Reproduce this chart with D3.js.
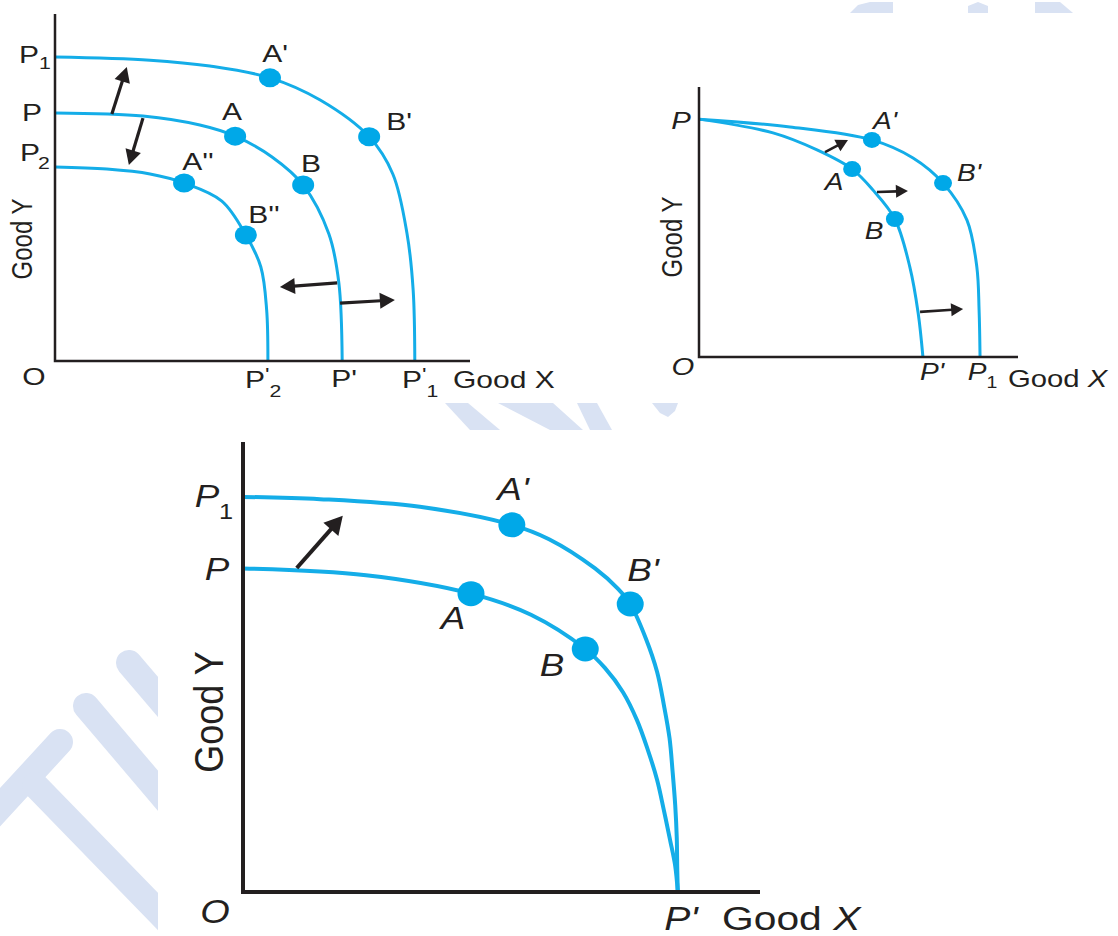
<!DOCTYPE html>
<html>
<head>
<meta charset="utf-8">
<script src="https://cdn.jsdelivr.net/npm/d3@7"></script>
<style>
  body { margin: 0; background: #fff; }
  svg { display: block; }
  text { font-family: "Liberation Sans", Arial, Helvetica, sans-serif; fill: #231f20; }
</style>
</head>
<body>
<svg id="chart" width="1118" height="936"></svg>
<script>
// ---- data (units 0..10 on each axis) ----

// panel 1: shifts of the PPF (P1 outward, P2 inward)
const tlCurveP1 = [[0,8.76],[2.29,8.67],[3.73,8.5],[5.18,8.16],[6.39,7.52],[7.57,6.46],[8.14,5.39],[8.48,3.69],[8.63,2.05],[8.67,0]];
const tlCurveP  = [[0,7.15],[2.12,7.06],[3.49,6.8],[4.34,6.48],[5.23,5.88],[5.98,5.07],[6.6,3.66],[6.84,2.25],[6.92,0]];
const tlCurveP2 = [[0,5.59],[1.25,5.53],[2.29,5.39],[3.11,5.13],[4.02,4.61],[4.6,3.63],[4.96,2.71],[5.1,1.47],[5.13,0]];
const tlPoints = [
  {name: "A'",  x: 5.18, y: 8.16}, {name: "B'",  x: 7.57, y: 6.46},
  {name: "A",   x: 4.34, y: 6.48}, {name: "B",   x: 5.98, y: 5.07},
  {name: "A''", x: 3.11, y: 5.13}, {name: "B''", x: 4.6,  y: 3.63}
];
const tlArrows = [
  [[1.37,7.12],[1.73,8.47]],
  [[2.12,7.0],[1.78,5.65]],
  [[6.8,2.25],[5.42,2.13]],
  [[6.87,1.67],[8.19,1.76]]
];

// panel 2: growth in good X only
const trCurveP  = [[0,8.81],[2.32,8.3],[3.7,7.67],[4.8,6.96],[5.45,6.19],[6.14,5.11],[6.61,3.33],[6.87,1.63],[7.02,0]];
const trCurveP1 = [[0,8.81],[2.85,8.52],[5.42,8.04],[6.71,7.37],[7.65,6.44],[8.4,5.07],[8.71,3.33],[8.78,1.74],[8.81,0]];
const trPoints = [
  {name: "A",  x: 4.8,  y: 6.96}, {name: "B",  x: 6.14, y: 5.11},
  {name: "A'", x: 5.42, y: 8.04}, {name: "B'", x: 7.65, y: 6.44}
];
const trArrows = [
  [[3.95,7.59],[4.67,8.04]],
  [[5.58,6.11],[6.55,6.15]],
  [[6.93,1.67],[8.28,1.78]]
];

// panel 3: growth in good Y only
const btCurveP1 = [[0,8.78],[1.49,8.73],[3.42,8.56],[5.2,8.16],[5.92,7.84],[6.81,7.19],[7.25,6.74],[7.49,6.4],[7.79,5.64],[8.01,4.89],[8.14,4.16],[8.25,3.42],[8.31,2.67],[8.36,1.93],[8.39,1.2],[8.4,0.47],[8.41,0]];
const btCurveP  = [[0,7.19],[2.38,7.04],[4.41,6.63],[5.57,6.16],[6.62,5.4],[7.0,4.98],[7.35,4.44],[7.62,3.82],[7.83,3.16],[8.01,2.49],[8.14,1.82],[8.26,1.16],[8.36,0.58],[8.41,0]];
const btPoints = [
  {name: "A'", x: 5.2,  y: 8.16}, {name: "B'", x: 7.49, y: 6.4},
  {name: "A",  x: 4.41, y: 6.63}, {name: "B",  x: 6.62, y: 5.4}
];
const btArrows = [
  [[1.04,7.2],[1.93,8.36]]
];

// ---- drawing ----
const svg = d3.select("#chart");
const blue = "#14ade8";
const ink = "#231f20";

// faint watermark behind the three figures
const wm = svg.append("g").attr("fill", "#d9e2f3").attr("stroke", "#d9e2f3");
[[[60,742],[-30,840]], [[35,785],[210,965]], [[86,706],[210,852]], [[129,663],[210,758]]].forEach(s => {
  wm.append("line").attr("x1", s[0][0]).attr("y1", s[0][1]).attr("x2", s[1][0]).attr("y2", s[1][1])
    .attr("stroke-width", 26).attr("stroke-linecap", "round");
});
[
  [[445,403],[468,403],[500,430],[470,430]],
  [[498,403],[553,403],[583,430],[550,430]],
  [[577,403],[597,403],[612,430],[590,430]],
  [[652,403],[678,403],[675,411],[668,417],[660,413]],
  [[850,13],[858,5],[870,2],[893,2],[893,13]],
  [[968,13],[968,6],[978,2],[988,6],[988,13]],
  [[1035,13],[1035,2],[1060,2],[1073,13]]
].forEach(p => wm.append("polygon").attr("stroke", "none").attr("points", p.join(" ")));

// the figures sit on white cards that hide the watermark
[[0,0,640,403],[640,13,478,390],[158,430,760,506]].forEach(r => {
  svg.append("rect").attr("x", r[0]).attr("y", r[1]).attr("width", r[2]).attr("height", r[3]).attr("fill", "#fff");
});

function makePanel(xr, yr) {
  return {
    x: d3.scaleLinear().domain([0, 10]).range(xr),
    y: d3.scaleLinear().domain([0, 10]).range(yr)
  };
}

function drawAxes(g, p, w) {
  g.append("path")
    .attr("d", `M${p.x(0)},${p.y(10)}L${p.x(0)},${p.y(0)}L${p.x(10)},${p.y(0)}`)
    .attr("fill", "none").attr("stroke", ink).attr("stroke-width", w)
    .attr("stroke-linejoin", "miter");
}

function drawCurve(g, p, data, w) {
  const line = d3.line()
    .x(d => p.x(d[0]))
    .y(d => p.y(d[1]))
    .curve(d3.curveCatmullRom.alpha(0.5));
  g.append("path").attr("d", line(data))
    .attr("fill", "none").attr("stroke", blue).attr("stroke-width", w);
}

function drawDots(g, p, pts, rx, ry) {
  g.selectAll(null).data(pts).enter().append("ellipse")
    .attr("cx", d => p.x(d.x)).attr("cy", d => p.y(d.y))
    .attr("rx", rx).attr("ry", ry).attr("fill", "#00a8e8");
}

function drawArrows(g, p, arrows, w, len, half) {
  arrows.forEach(a => {
    const x1 = p.x(a[0][0]), y1 = p.y(a[0][1]);
    const x2 = p.x(a[1][0]), y2 = p.y(a[1][1]);
    const ang = Math.atan2(y2 - y1, x2 - x1);
    const bx = x2 - len * Math.cos(ang), by = y2 - len * Math.sin(ang);
    g.append("line").attr("x1", x1).attr("y1", y1).attr("x2", bx + Math.cos(ang)).attr("y2", by + Math.sin(ang))
      .attr("stroke", ink).attr("stroke-width", w);
    const nx = -Math.sin(ang) * half, ny = Math.cos(ang) * half;
    g.append("polygon")
      .attr("points", [[x2, y2], [bx + nx, by + ny], [bx - nx, by - ny]].join(" "))
      .attr("fill", ink);
  });
}

// text helper: sx stretches glyphs horizontally like the scanned figures
function label(g, txt, x, y, size, opt = {}) {
  const sx = opt.sx || 1;
  const t = g.append("text")
    .attr("transform", `translate(${x},${y}) scale(${sx},1)` + (opt.rotate ? " rotate(-90)" : ""))
    .attr("text-anchor", opt.anchor || "middle")
    .attr("dominant-baseline", "central")
    .style("font-size", size + "px");
  if (opt.italic) t.style("font-style", "italic");
  if (Array.isArray(txt)) {
    txt.forEach(s => t.append("tspan").text(s[0]).style("font-style", s[1] ? "italic" : "normal"));
  } else {
    t.text(txt);
  }
  return t;
}

// "P" with a prime and then a subscript, as one text element
function primeSub(g, sub, x, baseY, size, small, sx) {
  const t = g.append("text")
    .attr("transform", `translate(${x},${baseY}) scale(${sx},1)`)
    .style("font-size", size + "px");
  t.append("tspan").text("P");
  t.append("tspan").text("'").attr("dy", -7).style("font-size", (small + 2) + "px");
  t.append("tspan").text(sub).attr("dy", 16).style("font-size", small + "px");
}

// ---- panel 1 (top left) ----
const p1 = makePanel([55, 470], [361, 14]);
const g1 = svg.append("g");
[tlCurveP1, tlCurveP, tlCurveP2].forEach(c => drawCurve(g1, p1, c, 3));
drawAxes(g1, p1, 2.5);
drawArrows(g1, p1, tlArrows, 3.2, 15, 8);
drawDots(g1, p1, tlPoints, 11, 9.5);
const s1 = 1.25, f1 = 24;
const tlLabelPos = {"A'": [275, 54], "B'": [399, 122], "A": [232, 112], "B": [311, 164], "A''": [198, 162], "B''": [264, 215]};
tlPoints.forEach(d => label(g1, d.name, tlLabelPos[d.name][0], tlLabelPos[d.name][1], f1, {sx: s1}));
label(g1, "P", 29, 55, f1, {sx: s1});
label(g1, "1", 45, 63, 17, {sx: s1});
label(g1, "P", 32, 113, f1, {sx: s1});
label(g1, "P", 30, 153, f1, {sx: s1});
label(g1, "2", 44, 163, 17, {sx: s1});
label(g1, "O", 34, 377, f1, {sx: s1});
primeSub(g1, "2", 245, 388, f1, 17, s1);
label(g1, "P'", 344, 379, f1, {sx: s1});
primeSub(g1, "1", 402, 388, f1, 17, s1);
label(g1, "Good X", 453, 380, f1, {sx: s1, anchor: "start"});
label(g1, "Good Y", 22, 239, f1, {sx: s1, rotate: true});

// ---- panel 2 (top right) ----
const p2 = makePanel([699, 1018], [357, 87]);
const g2 = svg.append("g");
[trCurveP, trCurveP1].forEach(c => drawCurve(g2, p2, c, 3));
drawAxes(g2, p2, 2.5);
drawArrows(g2, p2, trArrows, 2.6, 12, 6.5);
drawDots(g2, p2, trPoints, 9, 8);
const s2 = 1.22, f2 = 23;
const trLabelPos = {"A'": [885, 121], "B'": [969, 173], "A": [834, 182], "B": [874, 231]};
trPoints.forEach(d => label(g2, d.name, trLabelPos[d.name][0], trLabelPos[d.name][1], f2, {sx: s2, italic: true}));
label(g2, "P", 681, 121, 24, {sx: s2, italic: true});
label(g2, "O", 683, 367, 24, {sx: s2, italic: true});
label(g2, "P'", 932, 372, f2, {sx: s2, italic: true});
label(g2, "P", 977, 372, f2, {sx: s2, italic: true});
label(g2, "1", 992, 383, 16, {sx: s2});
label(g2, [["Good ", false], ["X", true]], 1008, 379, 24, {sx: s2, anchor: "start"});
label(g2, "Good Y", 672, 237, 24, {sx: s2, rotate: true});

// ---- panel 3 (bottom) ----
const p3 = makePanel([243, 760], [892, 442]);
const g3 = svg.append("g");
[btCurveP1, btCurveP].forEach(c => drawCurve(g3, p3, c, 4));
drawAxes(g3, p3, 4);
drawArrows(g3, p3, btArrows, 4, 18, 10);
drawDots(g3, p3, btPoints, 13.5, 12.5);
const s3 = 1.15, f3 = 32;
const btLabelPos = {"A'": [513, 489], "B'": [643, 570], "A": [453, 618], "B": [552, 665]};
btPoints.forEach(d => label(g3, d.name, btLabelPos[d.name][0], btLabelPos[d.name][1], f3, {sx: s3, italic: true}));
label(g3, "P", 207, 496, f3, {sx: s3, italic: true});
label(g3, "1", 226, 512, 22, {sx: s3});
label(g3, "P", 217, 569, f3, {sx: s3, italic: true});
label(g3, "O", 215, 912, 33, {sx: s3, italic: true});
label(g3, "P'", 681, 918, 34, {sx: s3, italic: true});
label(g3, [["Good ", false], ["X", true]], 722, 918, 34, {sx: 1.2, anchor: "start"});
label(g3, "Good Y", 209, 712, 36, {sx: s3, rotate: true});
</script>
</body>
</html>
